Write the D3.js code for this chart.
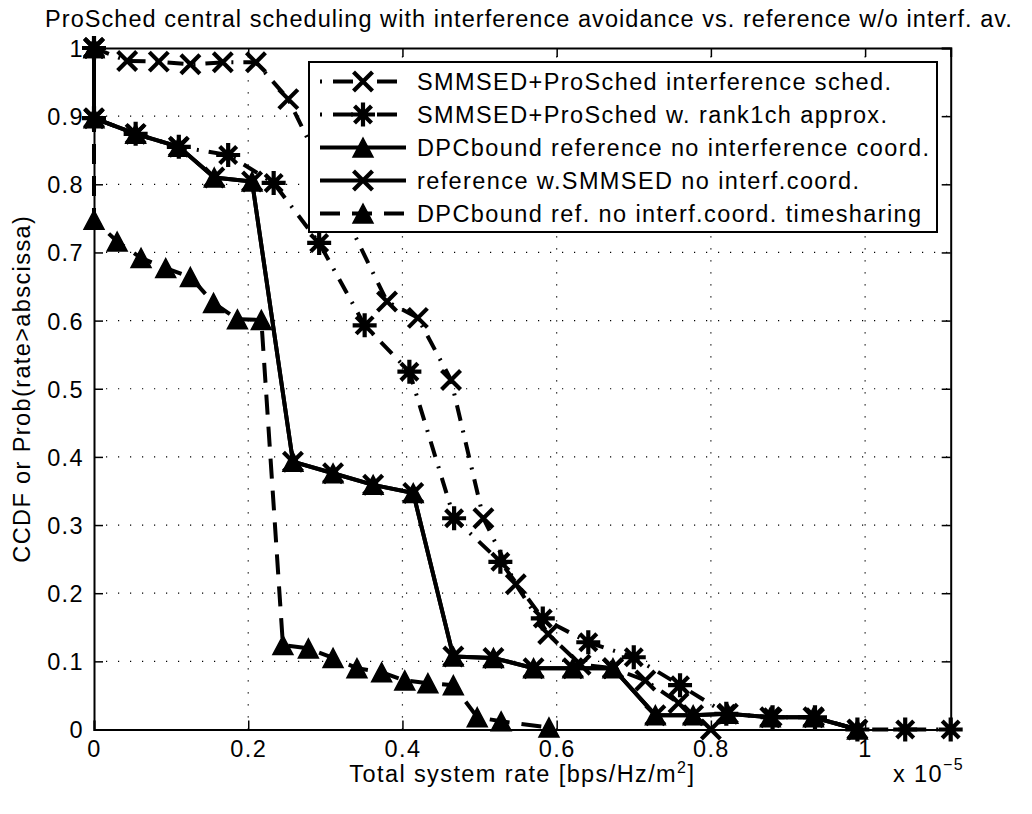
<!DOCTYPE html>
<html>
<head>
<meta charset="utf-8">
<script src="https://cdn.jsdelivr.net/npm/d3@7"></script>
<style>
  body { margin: 0; background: #fff; }
  svg { display: block; }
  text { font-family: "Liberation Sans", Arial, Helvetica, sans-serif; fill: #000; }
</style>
</head>
<body>
<svg id="chart" width="1032" height="814"></svg>
<script>
// ---- data (rates in units of 1e-5 bps/Hz/m^2) ----
const titleText = "ProSched central scheduling with interference avoidance vs. reference w/o interf. av.";
const xLabelText = "Total system rate [bps/Hz/m";
const yLabelText = "CCDF or Prob(rate>abscissa)";

const xTicks = [0, 0.2, 0.4, 0.6, 0.8, 1];
const xTickLabels = ["0", "0.2", "0.4", "0.6", "0.8", "1"];
const yTicks = [0, 0.1, 0.2, 0.3, 0.4, 0.5, 0.6, 0.7, 0.8, 0.9, 1];
const yTickLabels = ["0", "0.1", "0.2", "0.3", "0.4", "0.5", "0.6", "0.7", "0.8", "0.9", "1"];

const seriesNames = [
  "SMMSED+ProSched interference sched.",
  "SMMSED+ProSched w. rank1ch approx.",
  "DPCbound reference no interference coord.",
  "reference w.SMMSED no interf.coord.",
  "DPCbound ref. no interf.coord. timesharing"
];

// SMMSED+ProSched interference sched.
const schedX = [0, 0.043, 0.084, 0.125, 0.167, 0.21, 0.252, 0.38, 0.42, 0.463, 0.505, 0.547, 0.589, 0.631, 0.673, 0.715, 0.758, 0.8];
const schedY = [1, 0.981, 0.98, 0.976, 0.979, 0.979, 0.925, 0.628, 0.604, 0.513, 0.31, 0.213, 0.14, 0.095, 0.09, 0.072, 0.039, 0];

// SMMSED+ProSched w. rank1ch approx.
const rank1X = [0, 0, 0.054, 0.11, 0.174, 0.233, 0.292, 0.351, 0.409, 0.467, 0.527, 0.582, 0.641, 0.70, 0.76, 0.82, 0.88, 0.935, 0.99, 1.052, 1.111];
const rank1Y = [1, 0.897, 0.874, 0.855, 0.843, 0.802, 0.714, 0.593, 0.525, 0.31, 0.246, 0.163, 0.128, 0.106, 0.065, 0.023, 0.018, 0.018, 0, 0, 0];

// DPCbound reference no interference coord.
const dpcX = [0, 0, 0.054, 0.11, 0.156, 0.205, 0.258, 0.31, 0.362, 0.414, 0.466, 0.518, 0.57, 0.621, 0.673, 0.728, 0.777, 0.822, 0.877, 0.933, 0.99];
const dpcY = [1, 0.897, 0.874, 0.855, 0.81, 0.804, 0.393, 0.376, 0.359, 0.347, 0.107, 0.105, 0.09, 0.09, 0.09, 0.021, 0.021, 0.023, 0.018, 0.018, 0];

// reference w.SMMSED no interf.coord.
const refX = [0, 0, 0.054, 0.11, 0.156, 0.205, 0.258, 0.31, 0.362, 0.414, 0.466, 0.518, 0.57, 0.621, 0.673, 0.728, 0.777, 0.822, 0.877, 0.933, 0.99];
const refY = [1, 0.897, 0.874, 0.855, 0.81, 0.804, 0.393, 0.376, 0.359, 0.347, 0.107, 0.105, 0.09, 0.09, 0.09, 0.021, 0.021, 0.023, 0.018, 0.018, 0];

// DPCbound ref. no interf.coord. timesharing
const tsX = [0, 0, 0.030, 0.061, 0.093, 0.125, 0.155, 0.186, 0.217, 0.245, 0.278, 0.31, 0.341, 0.373, 0.403, 0.433, 0.466, 0.497, 0.528, 0.59];
const tsY = [1, 0.748, 0.716, 0.692, 0.677, 0.664, 0.626, 0.602, 0.601, 0.124, 0.119, 0.105, 0.09, 0.084, 0.072, 0.068, 0.065, 0.018, 0.012, 0.003];

// ---- layout ----
const svg = d3.select("#chart");
const plotLeft = 94, plotRight = 950.7, plotTop = 48, plotBottom = 729.5;
const FS = 23.5;           // base font size
const LS = "1.4px";        // letter spacing

const x = d3.scaleLinear().domain([0, 1.111]).range([plotLeft, plotRight]);
const y = d3.scaleLinear().domain([0, 1]).range([plotBottom, plotTop]);

// dotted grid
const grid = svg.append("g");
grid.selectAll("line.gx").data(xTicks.filter(t => t > 0)).join("line")
  .attr("x1", d => x(d)).attr("x2", d => x(d)).attr("y1", plotBottom).attr("y2", plotTop)
  .attr("stroke", "#000").attr("stroke-width", 1.2).attr("stroke-dasharray", "1.2,10.8");
grid.selectAll("line.gy").data(yTicks.filter(t => t > 0 && t < 1)).join("line")
  .attr("x1", plotLeft).attr("x2", plotRight).attr("y1", d => y(d)).attr("y2", d => y(d))
  .attr("stroke", "#000").attr("stroke-width", 1.2).attr("stroke-dasharray", "1.2,10.8");

// axes with inward ticks
const tickLen = 9;
const axB = svg.append("g").attr("transform", `translate(0,${plotBottom})`)
  .call(d3.axisBottom(x).tickValues(xTicks).tickFormat((d, i) => xTickLabels[i]).tickSize(-tickLen).tickPadding(11));
const axT = svg.append("g").attr("transform", `translate(0,${plotTop})`)
  .call(d3.axisTop(x).tickValues(xTicks).tickFormat("").tickSize(-tickLen));
const axL = svg.append("g").attr("transform", `translate(${plotLeft},0)`)
  .call(d3.axisLeft(y).tickValues(yTicks).tickFormat((d, i) => yTickLabels[i]).tickSize(-tickLen).tickPadding(10));
const axR = svg.append("g").attr("transform", `translate(${plotRight},0)`)
  .call(d3.axisRight(y).tickValues(yTicks).tickFormat("").tickSize(-tickLen));
[axB, axT, axL, axR].forEach(a => {
  a.select(".domain").attr("stroke", "#000").attr("stroke-width", 2);
  a.selectAll(".tick line").attr("stroke", "#000").attr("stroke-width", 1.5);
  a.selectAll(".tick text").attr("font-size", FS).attr("letter-spacing", LS)
    .style("font-family", '"Liberation Sans", Arial, sans-serif');
});
axL.selectAll(".tick text").attr("dy", "0.36em");

// ---- series ----
const styles = [
  { xs: schedX, ys: schedY, dash: "16,10,2,10", marker: "x" },
  { xs: rank1X, ys: rank1Y, dash: "16,10,2,10", marker: "star" },
  { xs: dpcX,   ys: dpcY,   dash: null,          marker: "tri" },
  { xs: refX,   ys: refY,   dash: null,          marker: "x" },
  { xs: tsX,    ys: tsY,    dash: "20,12",       marker: "tri" }
];

function markerPath(kind) {
  if (kind === "x") {
    const s = 9.5;
    return `M${-s},${-s}L${s},${s}M${-s},${s}L${s},${-s}`;
  }
  if (kind === "star") {
    const a = 12, b = 8.5;
    return `M${-a},0L${a},0M0,${-a}L0,${a}M${-b},${-b}L${b},${b}M${-b},${b}L${b},${-b}`;
  }
  // upward triangle
  const w = 10, h = 9.5;
  return `M0,${-h}L${w},${h}L${-w},${h}Z`;
}

function drawMarker(g, kind) {
  const p = g.append("path").attr("d", markerPath(kind)).attr("stroke", "#000");
  if (kind === "tri") p.attr("fill", "#000").attr("stroke-width", 1.5).attr("stroke-linejoin", "miter");
  else p.attr("fill", "none").attr("stroke-width", 4.2).attr("stroke-linecap", "butt");
}

const line = d3.line().x(d => x(d[0])).y(d => y(d[1]));
const plot = svg.append("g");
styles.forEach(s => {
  const pts = s.xs.map((v, i) => [v, s.ys[i]]);
  const g = plot.append("g");
  g.append("path").datum(pts).attr("d", line)
    .attr("fill", "none").attr("stroke", "#000").attr("stroke-width", 4)
    .attr("stroke-linejoin", "miter").attr("stroke-dasharray", s.dash);
  pts.forEach(p => {
    const mg = g.append("g").attr("transform", `translate(${x(p[0])},${y(p[1])})`);
    drawMarker(mg, s.marker);
  });
});

// ---- legend ----
const lg = svg.append("g");
lg.append("rect").attr("x", 309).attr("y", 62).attr("width", 628).attr("height", 170)
  .attr("fill", "#fff").attr("stroke", "#000").attr("stroke-width", 2);
seriesNames.forEach((name, i) => {
  const cy = 81.5 + i * 33;
  const s = styles[i];
  lg.append("line").attr("x1", 320).attr("x2", 406).attr("y1", cy).attr("y2", cy)
    .attr("stroke", "#000").attr("stroke-width", 4)
    .attr("stroke-dasharray", s.dash ? (s.marker === "tri" ? "20,12" : "2,11,20,11") : null);
  const mg = lg.append("g").attr("transform", `translate(363,${cy})`);
  drawMarker(mg, s.marker);
  lg.append("text").attr("x", 417).attr("y", cy).attr("dy", "0.36em")
    .attr("font-size", FS).attr("letter-spacing", LS).text(name);
});

// ---- titles ----
svg.append("text").attr("x", 529).attr("y", 27).attr("text-anchor", "middle")
  .attr("font-size", FS).attr("letter-spacing", "1.05px").text(titleText);

const xl = svg.append("text").attr("x", (plotLeft + plotRight) / 2).attr("y", 782).attr("text-anchor", "middle")
  .attr("font-size", FS).attr("letter-spacing", LS);
xl.append("tspan").text(xLabelText);
xl.append("tspan").attr("dy", -9).attr("font-size", 16).text("2");
xl.append("tspan").attr("dy", 9).text("]");

const ex = svg.append("text").attr("x", 893).attr("y", 782).attr("font-size", FS).attr("letter-spacing", LS);
ex.append("tspan").text("x 10");
ex.append("tspan").attr("dy", -12).attr("font-size", 16).text("\u22125");

svg.append("text").attr("transform", `translate(30,${(plotTop + plotBottom) / 2}) rotate(-90)`)
  .attr("text-anchor", "middle").attr("font-size", FS).attr("letter-spacing", LS).text(yLabelText);
</script>
</body>
</html>
